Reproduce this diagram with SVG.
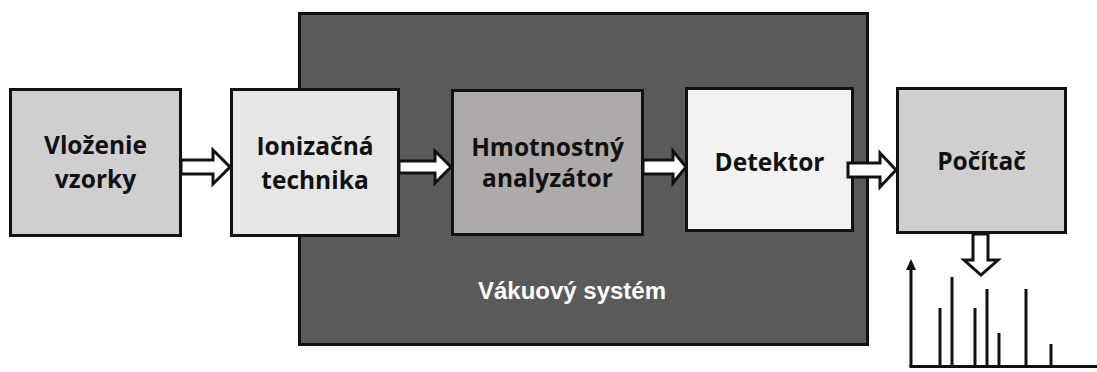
<svg xmlns="http://www.w3.org/2000/svg" width="1097" height="372" viewBox="0 0 1097 372">
<style>
.box{stroke:#111;stroke-width:3}
.t{font-family:"Open Sans","Liberation Sans",sans-serif;font-weight:bold;font-size:24.5px;fill:#111;text-anchor:middle}
.arr{fill:#fff;stroke:#111;stroke-width:3;stroke-linejoin:miter}
.ax{stroke:#111;stroke-width:3;fill:none}
</style>
<rect width="1097" height="372" fill="#fff"/>
<g id="vacuum">
<rect x="299.5" y="13.5" width="568" height="331" fill="#5a5a5a" class="box"/>
<text x="572" y="299" font-family="Liberation Sans, Arial, sans-serif" font-weight="bold" font-size="24" fill="#fff" text-anchor="middle">Vákuový systém</text>
</g>
<g id="vlozenie">
<rect x="10.5" y="89.5" width="170" height="146" fill="#d0cece" class="box"/>
<text class="t" x="95.5" y="154">Vloženie</text>
<text class="t" x="95.5" y="188">vzorky</text>
</g>
<g id="ionizacna">
<rect x="231.5" y="89.5" width="167" height="146" fill="#e6e6e6" class="box"/>
<text class="t" x="315" y="155">Ionizačná</text>
<text class="t" x="315" y="189">technika</text>
</g>
<g id="hmotnostny">
<rect x="452.5" y="90.5" width="190" height="144" fill="#aeaaaa" class="box"/>
<text class="t" x="547.5" y="156">Hmotnostný</text>
<text class="t" x="547.5" y="187">analyzátor</text>
</g>
<g id="detektor">
<rect x="686.5" y="88.5" width="166" height="142" fill="#f2f2f2" class="box"/>
<text class="t" x="769.5" y="171">Detektor</text>
</g>
<g id="pocitac">
<rect x="897.5" y="88.5" width="168" height="144" fill="#d0cece" class="box"/>
<text class="t" x="981.5" y="170">Počítač</text>
</g>
<g id="connectors">
<polygon class="arr" points="181,160 213,160 213,150 230,167 213,184 213,174 181,174"/>
<polygon class="arr" points="399,161 435,161 435,151 451,167 435,183 435,173 399,173"/>
<polygon class="arr" points="643,160 673,160 673,151 686,167 673,183 673,174 643,174"/>
<polygon class="arr" points="848,163 880,163 880,153 896,170 880,187 880,177 848,177"/>
<polygon class="arr" points="973,234 988,234 988,260 998,260 981,275 964,260 973,260"/>
</g>
<g id="spectrum">
<line class="ax" x1="911" y1="266" x2="911" y2="367"/>
<polygon points="911,259 906,270 916,270" fill="#111"/>
<line class="ax" x1="909.5" y1="366.5" x2="1097" y2="366.5"/>
<g class="ax">
<line x1="940" y1="308" x2="940" y2="366"/>
<line x1="952" y1="277" x2="952" y2="366"/>
<line x1="975" y1="308" x2="975" y2="366"/>
<line x1="987" y1="289" x2="987" y2="366"/>
<line x1="999" y1="333" x2="999" y2="366"/>
<line x1="1026" y1="289" x2="1026" y2="366"/>
<line x1="1051" y1="344" x2="1051" y2="366"/>
</g>
</g>
</svg>
